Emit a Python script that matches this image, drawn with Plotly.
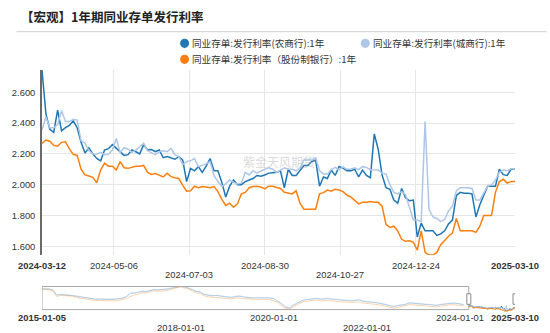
import pandas as pd
import plotly.graph_objects as go

# ---------------- data ----------------
# 1-year interbank NCD issuance rates, sampled every 3 days (2024-03-12 .. 2025-03-10)
dates = pd.date_range("2024-03-12", "2025-03-10", freq="3D")

rural = [  # 农商行
    2.745, 2.46, 2.36, 2.34, 2.485, 2.35, 2.37, 2.385, 2.415, 2.37,
    2.275, 2.205, 2.24, 2.20, 2.17, 2.155, 2.225, 2.234, 2.26, 2.236,
    2.215, 2.19, 2.195, 2.225, 2.214, 2.20, 2.26, 2.225, 2.228, 2.215,
    2.225, 2.175, 2.182, 2.175, 2.165, 2.182, 2.16, 2.02, 2.106, 2.09,
    2.117, 2.08, 2.12, 2.17, 2.09, 2.09, 2.015, 1.92, 1.99, 2.03,
    2.00, 2.00, 2.02, 2.03, 2.04, 2.06, 2.055, 2.063, 2.075, 2.078,
    2.08, 2.09, 1.98, 2.10, 2.06, 2.06, 2.09, 2.125, 2.125, 2.15,
    2.16, 1.99, 2.05, 2.04, 2.095, 2.06, 2.118, 2.108, 2.09, 2.09,
    2.10, 2.05, 2.095, 2.06, 2.045, 2.33, 2.23, 2.063, 1.98, 1.97,
    1.90, 1.88, 1.975, 1.915, 1.895, 1.90, 1.66, 1.75, 1.70, 1.70,
    1.70, 1.67, 1.68, 1.70, 1.745, 1.77, 1.93, 1.95, 1.945, 1.945,
    1.94, 1.79, 1.87, 1.93, 1.99, 1.99, 1.99, 2.10, 2.065, 2.06,
    2.10, 2.10,
]
city = [  # 城商行
    2.355, 2.44, 2.37, 2.37, 2.39, 2.48, 2.41, 2.41, 2.425, 2.42,
    2.285, 2.27, 2.22, 2.20, 2.198, 2.21, 2.195, 2.198, 2.225, 2.30,
    2.208, 2.24, 2.23, 2.21, 2.225, 2.25, 2.27, 2.22, 2.21, 2.195,
    2.214, 2.22, 2.214, 2.236, 2.195, 2.182, 2.13, 2.15, 2.155, 2.17,
    2.117, 2.125, 2.135, 2.15, 2.06, 2.02, 1.99, 2.005, 2.03, 2.015,
    2.005, 2.01, 2.08, 2.063, 2.09, 2.076, 2.09, 2.10, 2.11, 2.10,
    2.08, 2.095, 2.11, 2.10, 2.10, 2.09, 2.11, 2.16, 2.16, 2.16,
    2.175, 2.09, 2.07, 2.07, 2.098, 2.112, 2.097, 2.116, 2.10, 2.10,
    2.11, 2.098, 2.117, 2.112, 2.097, 2.095, 2.095, 2.075, 2.07, 2.00,
    1.95, 1.94, 1.955, 1.935, 1.85, 1.77, 1.77, 1.76, 2.41, 1.84,
    1.79, 1.78, 1.76, 1.775, 1.83, 1.86, 1.96, 1.98, 1.98, 1.98,
    1.975, 1.90, 1.90, 1.95, 1.99, 2.00, 2.03, 2.08, 2.095, 2.09,
    2.105, 2.10,
]
joint = [  # 股份制银行
    2.268, 2.29, 2.282, 2.255, 2.25, 2.275, 2.279, 2.232, 2.197, 2.19,
    2.10, 2.063, 2.056, 2.048, 2.012, 2.095, 2.14, 2.12, 2.12, 2.095,
    2.15, 2.11, 2.106, 2.115, 2.12, 2.12, 2.125, 2.08, 2.066, 2.072,
    2.063, 2.05, 2.074, 2.052, 2.045, 2.04, 1.995, 1.958, 1.96, 1.99,
    1.98, 1.988, 1.985, 1.98, 1.988, 1.955, 1.905, 1.865, 1.88, 1.853,
    1.875, 1.94, 1.95, 1.98, 1.988, 1.99, 1.985, 1.972, 1.99, 1.99,
    1.982, 1.975, 1.95, 1.945, 1.94, 1.96, 1.88, 1.84, 1.84, 1.84,
    1.84, 1.94, 1.948, 1.965, 1.958, 1.97, 1.965, 1.955, 1.932, 1.92,
    1.895, 1.875, 1.885, 1.885, 1.89, 1.885, 1.885, 1.86, 1.74, 1.722,
    1.73, 1.70, 1.645, 1.632, 1.635, 1.625, 1.575, 1.70, 1.56, 1.543,
    1.543, 1.56, 1.61, 1.64, 1.665, 1.685, 1.78, 1.70, 1.70, 1.70,
    1.70, 1.69, 1.73, 1.80, 1.80, 1.80, 1.95, 2.02, 2.035, 2.01,
    2.02, 2.02,
]

# Monthly history for the overview strip (2015-01 .. 2024-02)
hist_dates = pd.date_range("2015-01-01", "2024-02-01", freq="MS")
rural_hist = [
    4.85, 4.90, 4.85, 4.65, 3.95, 4.05, 4.00, 3.95, 3.95, 3.80, 3.70, 3.60,
    3.45, 3.40, 3.35, 3.35, 3.30, 3.35, 3.30, 3.35, 3.40, 3.50, 3.75, 4.20,
    4.25, 4.35, 4.50, 4.45, 4.60, 4.75, 4.70, 4.70, 4.80, 4.90, 5.05, 5.20,
    5.25, 5.15, 5.00, 4.75, 4.50, 4.40, 4.05, 3.90, 3.85, 3.90, 3.85, 3.75,
    3.70, 3.60, 3.70, 3.80, 3.70, 3.60, 3.55, 3.55, 3.55, 3.60, 3.60, 3.55,
    3.40, 3.10, 2.70, 2.20, 2.05, 2.45, 2.80, 3.05, 3.25, 3.30, 3.45, 3.45,
    3.35, 3.40, 3.45, 3.35, 3.30, 3.30, 3.25, 3.10, 3.10, 3.15, 3.25, 3.05,
    2.95, 2.90, 2.85, 2.80, 2.65, 2.55, 2.40, 2.25, 2.40, 2.45, 2.60, 2.80,
    2.75, 2.75, 2.70, 2.65, 2.55, 2.45, 2.45, 2.55, 2.65, 2.70, 2.75, 2.75,
    2.65, 2.55,
]
city_hist = [
    4.90, 4.95, 4.85, 4.70, 4.00, 4.10, 4.05, 4.00, 3.95, 3.85, 3.75, 3.65,
    3.50, 3.45, 3.40, 3.40, 3.35, 3.40, 3.35, 3.40, 3.45, 3.55, 3.85, 4.40,
    4.30, 4.40, 4.55, 4.50, 4.65, 4.80, 4.75, 4.75, 4.85, 4.95, 5.10, 5.25,
    5.30, 5.20, 5.05, 4.80, 4.55, 4.45, 4.10, 3.95, 3.90, 3.95, 3.90, 3.80,
    3.75, 3.65, 3.80, 3.85, 3.75, 3.65, 3.60, 3.60, 3.60, 3.65, 3.70, 3.60,
    3.45, 3.15, 2.75, 2.25, 2.10, 2.50, 2.85, 3.10, 3.30, 3.35, 3.50, 3.50,
    3.40, 3.45, 3.50, 3.40, 3.35, 3.35, 3.30, 3.15, 3.15, 3.20, 3.35, 3.10,
    3.00, 2.95, 2.90, 2.85, 2.70, 2.60, 2.45, 2.30, 2.45, 2.50, 2.65, 2.85,
    2.80, 2.80, 2.75, 2.70, 2.60, 2.50, 2.50, 2.60, 2.70, 2.75, 2.80, 2.80,
    2.70, 2.55,
]
joint_hist = [
    4.80, 4.80, 4.75, 4.55, 3.75, 3.90, 3.85, 3.80, 3.80, 3.60, 3.50, 3.40,
    3.25, 3.20, 3.15, 3.15, 3.10, 3.12, 3.10, 3.12, 3.18, 3.30, 3.50, 3.75,
    4.00, 4.10, 4.30, 4.25, 4.40, 4.60, 4.50, 4.50, 4.60, 4.70, 4.90, 5.05,
    5.15, 5.00, 4.85, 4.55, 4.30, 4.20, 3.85, 3.70, 3.65, 3.70, 3.65, 3.50,
    3.45, 3.40, 3.50, 3.55, 3.45, 3.40, 3.30, 3.30, 3.30, 3.35, 3.35, 3.30,
    3.10, 2.85, 2.40, 2.00, 1.90, 2.25, 2.60, 2.85, 3.00, 3.05, 3.20, 3.25,
    3.10, 3.15, 3.20, 3.10, 3.05, 3.05, 3.00, 2.85, 2.85, 2.90, 2.95, 2.80,
    2.70, 2.65, 2.60, 2.55, 2.45, 2.35, 2.15, 2.00, 2.15, 2.20, 2.35, 2.55,
    2.50, 2.50, 2.50, 2.40, 2.30, 2.25, 2.22, 2.30, 2.45, 2.50, 2.55, 2.55,
    2.45, 2.35,
]

series_names = [
    "同业存单:发行利率(农商行):1年",
    "同业存单:发行利率(城商行):1年",
    "同业存单:发行利率（股份制银行）:1年",
]
colors = ["#1f77b4", "#aec7e8", "#ff7f0e"]

y_ticks = [1.6, 1.8, 2.0, 2.2, 2.4, 2.6]
x_grid_ticks = ["2024-05-06", "2024-07-03", "2024-08-30", "2024-10-27", "2024-12-24"]
x_labels_row1 = ["2024-05-06", "2024-08-30", "2024-12-24"]
x_labels_row2 = ["2024-07-03", "2024-10-27"]
zoom_start, zoom_end = "2015-01-05", "2025-03-10"
zoom_labels_row1 = ["2020-01-01", "2024-01-01"]
zoom_labels_row2 = ["2018-01-01", "2022-01-01"]

# ---------------- layout helpers ----------------
W, H = 550, 333
ML, MR, MT, MB = 34, 35, 70, 21
PW, PH = W - ML - MR, H - MT - MB


def px(x):
    return (x - ML) / PW


def py(y):
    return (H - MB - y) / PH


TICK_FONT = dict(family="Liberation Sans, Arial, sans-serif", size=9.4, color="#333")
CJK = "Noto Sans CJK SC, sans-serif"

fig = go.Figure()

# main chart
main = [rural, city, joint]
for vals, name, col in zip(main, series_names, colors):
    fig.add_trace(go.Scatter(
        x=dates, y=vals, name=name, mode="lines",
        line=dict(color=col, width=1.5), showlegend=False,
        xaxis="x", yaxis="y",
    ))

# overview strip: faded history, then the selected window in full colour
for vals, col in zip([rural_hist, city_hist, joint_hist], colors):
    fig.add_trace(go.Scatter(
        x=hist_dates, y=vals, mode="lines", opacity=0.35,
        line=dict(color=col, width=1), showlegend=False,
        xaxis="x2", yaxis="y2", hoverinfo="skip",
    ))
for vals, col in zip(main, colors):
    fig.add_trace(go.Scatter(
        x=dates, y=vals, mode="lines",
        line=dict(color=col, width=1), showlegend=False,
        xaxis="x2", yaxis="y2", hoverinfo="skip",
    ))

all_vals = rural + city + joint
y_min, y_max = min(all_vals), max(all_vals)

annotations = []
shapes = []

# title and separator
annotations.append(dict(
    text="<b>【宏观】1年期同业存单发行利率</b>", xref="paper", yref="paper",
    x=px(11), y=py(17), xanchor="left", yanchor="middle", showarrow=False,
    font=dict(family=CJK, size=12.5, color="#222"),
))
shapes.append(dict(type="line", xref="paper", yref="paper",
                   x0=px(8), x1=px(547), y0=py(31.7), y1=py(31.7),
                   line=dict(color="#cfcfcf", width=1)))

# legend
legend_pos = [(179, 43.3), (362.7, 43.3), (179, 59.3)]
for (cx, cy), name, col in zip(legend_pos, series_names, colors):
    r = 4.6
    shapes.append(dict(type="circle", xref="paper", yref="paper",
                       x0=px(cx - r), x1=px(cx + r), y0=py(cy + r), y1=py(cy - r),
                       fillcolor=col, line=dict(width=0)))
    annotations.append(dict(
        text=name, xref="paper", yref="paper", x=px(cx + 5.5), y=py(cy),
        xanchor="left", yanchor="middle", showarrow=False,
        font=dict(family=CJK, size=9.6, color="#333"),
    ))

# watermark
annotations.append(dict(
    text="紫金天风期货", xref="paper", yref="paper", x=px(275), y=py(161.7),
    xanchor="center", yanchor="middle", showarrow=False,
    font=dict(family=CJK, size=12, color="rgba(170,170,170,0.45)"),
))

# main x-axis labels
row1_y, row2_y = py(265.6), py(274.2)
for d, bold in [(str(dates[0].date()), True), (str(dates[-1].date()), True)]:
    annotations.append(dict(text=f"<b>{d}</b>", xref="x", yref="paper", x=d, y=row1_y,
                            xanchor="center", yanchor="middle", showarrow=False, font=TICK_FONT))
for d in x_labels_row1:
    annotations.append(dict(text=d, xref="x", yref="paper", x=d, y=row1_y,
                            xanchor="center", yanchor="middle", showarrow=False, font=TICK_FONT))
for d in x_labels_row2:
    annotations.append(dict(text=d, xref="x", yref="paper", x=d, y=row2_y,
                            xanchor="center", yanchor="middle", showarrow=False, font=TICK_FONT))

# overview labels
z1_y, z2_y = py(317.3), py(327.8)
for d in [zoom_start, zoom_end]:
    annotations.append(dict(text=f"<b>{d}</b>", xref="x2", yref="paper", x=d, y=z1_y,
                            xanchor="center", yanchor="middle", showarrow=False, font=TICK_FONT))
for d in zoom_labels_row1:
    annotations.append(dict(text=d, xref="x2", yref="paper", x=d, y=z1_y,
                            xanchor="center", yanchor="middle", showarrow=False, font=TICK_FONT))
for d in zoom_labels_row2:
    annotations.append(dict(text=d, xref="x2", yref="paper", x=d, y=z2_y,
                            xanchor="center", yanchor="middle", showarrow=False, font=TICK_FONT))

# overview frame and handles
shapes.append(dict(type="rect", xref="x2", yref="paper",
                   x0=zoom_start, x1=str(dates[0].date()), y0=py(309.6), y1=py(286.5),
                   line=dict(color="#a8a8a8", width=1), layer="above"))
for d in [str(dates[0].date()), str(dates[-1].date())]:
    shapes.append(dict(type="rect", xref="x2", yref="paper", xsizemode="pixel", xanchor=d,
                       x0=-2, x1=2, y0=py(304.3), y1=py(293.8),
                       fillcolor="white", line=dict(color="#8a8a8a", width=1), layer="above"))

fig.update_layout(
    width=W, height=H,
    margin=dict(l=ML, r=MR, t=MT, b=MB),
    paper_bgcolor="white", plot_bgcolor="white",
    showlegend=False,
    xaxis=dict(
        type="date", domain=[0, 1], anchor="y",
        range=[dates[0], dates[-1]],
        tickvals=x_grid_ticks, showticklabels=False,
        showgrid=True, gridcolor="#e6e6e6", gridwidth=1,
        zeroline=False, showline=False, ticks="",
    ),
    yaxis=dict(
        domain=[py(255), 1], anchor="x",
        range=[y_min, y_max],
        tickvals=y_ticks, tickformat=".3f", tickfont=TICK_FONT,
        showgrid=True, gridcolor="#e6e6e6", gridwidth=1,
        zeroline=False, showline=True, linecolor="#6a6a6a", linewidth=1.6,
        ticks="", ticklabelstandoff=3,
    ),
    xaxis2=dict(type="date", domain=[0, 1], anchor="y2",
                range=[zoom_start, zoom_end], visible=False),
    yaxis2=dict(domain=[0, py(286.5)], anchor="x2",
                range=[1.468, 5.218], visible=False),
    annotations=annotations,
    shapes=shapes,
)

fig.write_html("out.html")
